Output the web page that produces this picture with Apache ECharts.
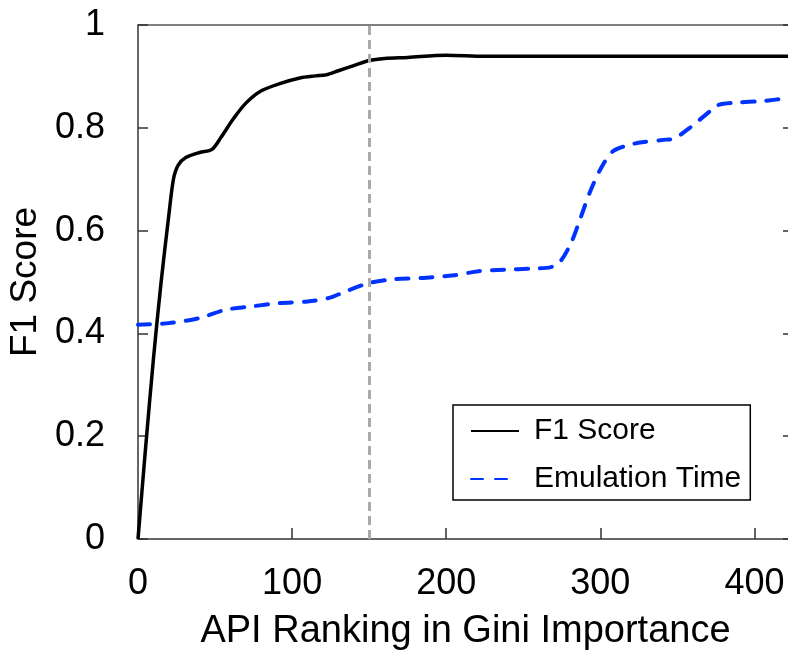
<!DOCTYPE html>
<html>
<head>
<meta charset="utf-8">
<script src="https://cdn.jsdelivr.net/npm/echarts@6/dist/echarts.min.js"></script>
<style>html,body{margin:0;padding:0;background:#fff}#c{width:788px;height:652px}</style>
</head>
<body>
<div id="c"></div>
<script>
// --- data ---
const f1X = [0, 5, 10, 15, 20, 23, 26, 31, 40, 48, 54, 62, 70, 80, 92, 105, 115, 122, 130, 140, 150, 160, 175, 200, 225, 250, 300, 350, 400, 425];
const f1Y = [0, 0.18, 0.35, 0.5, 0.63, 0.70, 0.727, 0.742, 0.752, 0.758, 0.782, 0.818, 0.848, 0.872, 0.886, 0.897, 0.901, 0.903, 0.911, 0.921, 0.931, 0.935, 0.937, 0.941, 0.939, 0.939, 0.939, 0.939, 0.939, 0.939];
const emuX = [0, 20, 40, 57, 75, 92, 110, 124, 135, 150, 165, 185, 205, 221, 238, 255, 268, 274, 281, 286, 293, 300, 308, 318, 327, 343, 348, 358, 371, 376, 388, 405, 425];
const emuY = [0.417, 0.42, 0.43, 0.446, 0.453, 0.459, 0.462, 0.469, 0.482, 0.498, 0.505, 0.508, 0.513, 0.521, 0.524, 0.526, 0.529, 0.540, 0.576, 0.615, 0.673, 0.719, 0.754, 0.766, 0.772, 0.777, 0.779, 0.800, 0.832, 0.844, 0.849, 0.852, 0.859];
const xTicks = [0, 100, 200, 300, 400];
const yTicks = [0, 0.2, 0.4, 0.6, 0.8, 1];
const markerX = 150;
const seriesNames = ['F1 Score', 'Emulation Time'];
const xTitle = 'API Ranking in Gini Importance';
const yTitle = 'F1 Score';

const pair = (xs, ys) => xs.map((x, i) => [x, ys[i]]);
const FONT = 'Liberation Sans, Arial, sans-serif';
const axisCol = '#333';

const chart = echarts.init(document.getElementById('c'));
chart.setOption({
  animation: false,
  backgroundColor: '#fff',
  grid: { left: 138, top: 25, width: 655, height: 514, containLabel: false, outerBoundsMode: 'none' },
  xAxis: [{
    type: 'value', min: 0, max: 425, interval: 100,
    name: xTitle, nameLocation: 'middle', nameGap: 74,
    nameTextStyle: { fontFamily: FONT, fontSize: 38, color: '#000' },
    axisLine: { show: true, onZero: false, lineStyle: { color: axisCol, width: 1.5 } },
    axisTick: { show: true, inside: true, length: 11, lineStyle: { color: axisCol, width: 1.5 } },
    axisLabel: { fontFamily: FONT, fontSize: 36, color: '#000', margin: 27, showMaxLabel: false,
      formatter: v => xTicks.includes(v) ? String(v) : '' },
    splitLine: { show: false }
  }, {
    type: 'value', min: 0, max: 425, position: 'top',
    axisLine: { show: true, onZero: false, lineStyle: { color: '#555', width: 1.5 } },
    axisTick: { show: false }, axisLabel: { show: false }, splitLine: { show: false }
  }],
  yAxis: [{
    type: 'value', min: 0, max: 1, interval: 0.2,
    name: yTitle, nameLocation: 'middle', nameGap: 90, nameRotate: 90,
    nameTextStyle: { fontFamily: FONT, fontSize: 37, color: '#000' },
    axisLine: { show: true, onZero: false, lineStyle: { color: axisCol, width: 1.5 } },
    axisTick: { show: true, inside: true, length: 10, lineStyle: { color: axisCol, width: 1.5 } },
    axisLabel: { fontFamily: FONT, fontSize: 36, color: '#000', margin: 33,
      formatter: v => { const t = yTicks.find(k => Math.abs(k - v) < 1e-9); return t === undefined ? '' : String(t); } },
    splitLine: { show: false }
  }, {
    type: 'value', min: 0, max: 1, interval: 0.2, position: 'right',
    axisLine: { show: true, onZero: false, lineStyle: { color: axisCol, width: 1.5 } },
    axisTick: { show: true, inside: true, length: 10, lineStyle: { color: axisCol, width: 1.5 } },
    axisLabel: { show: false }, splitLine: { show: false }
  }],
  legend: {
    orient: 'vertical', left: 453, top: 405,
    data: seriesNames,
    backgroundColor: '#fff',
    borderColor: '#000', borderWidth: 1.5,
    padding: [11, 9, 6, 17],
    itemWidth: 48, itemHeight: 14, itemGap: 18,
    itemStyle: { opacity: 0 },
    textStyle: { fontFamily: FONT, fontSize: 30, color: '#000', lineHeight: 30, padding: [0, 0, 0, 10] }
  },
  series: [{
    name: seriesNames[0], type: 'line', data: pair(f1X, f1Y),
    xAxisIndex: 0, yAxisIndex: 0,
    smooth: 0.3, showSymbol: false, symbol: 'none',
    lineStyle: { color: '#000', width: 3.5 }, itemStyle: { color: '#000' },
    z: 3,
    markLine: {
      silent: true, symbol: 'none', label: { show: false },
      lineStyle: { color: '#aaa', width: 3, type: [9, 5] },
      data: [{ xAxis: markerX }]
    }
  }, {
    name: seriesNames[1], type: 'line', data: pair(emuX, emuY),
    xAxisIndex: 0, yAxisIndex: 0,
    smooth: 0.3, showSymbol: false, symbol: 'none',
    lineStyle: { color: '#0033ff', width: 4, type: [12, 12], cap: 'round' }, itemStyle: { color: '#0033ff' },
    z: 4
  }]
});
</script>
</body>
</html>
